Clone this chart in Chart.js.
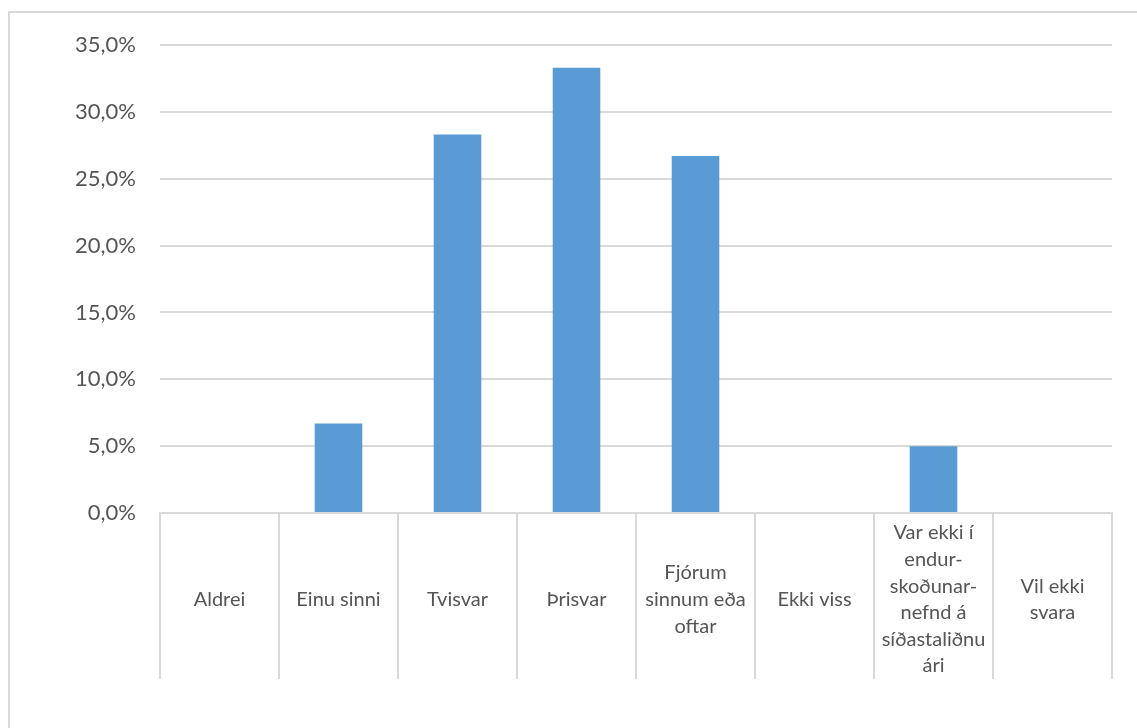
<!DOCTYPE html>
<html>
<head>
<meta charset="utf-8">
<script src="https://cdn.jsdelivr.net/npm/chart.js@4/dist/chart.umd.min.js"></script>
<style>
  html, body { margin: 0; padding: 0; background: #fff; overflow: hidden; }
  #wrap { position: relative; width: 1137px; height: 728px; }
  #frame {
    position: absolute; left: 8px; top: 11px; width: 1200px; height: 800px;
    border: 2px solid #d9d9d9; box-sizing: border-box;
  }
  canvas { position: absolute; left: 0; top: 0; }
</style>
</head>
<body>
<div id="wrap">
  <div id="frame"></div>
  <canvas id="chart" width="1137" height="728"></canvas>
</div>
<script>
// answers (category labels, multi-line as shown under the axis)
const categories = [
    'Aldrei',
    'Einu sinni',
    'Tvisvar',
    'Þrisvar',
    ['Fjórum', 'sinnum eða', 'oftar'],
    'Ekki viss',
    ['Var ekki í', 'endur-', 'skoðunar-', 'nefnd á', 'síðastaliðnu', 'ári'],
    ['Vil ekki', 'svara']
];
// share of answers, %
const shares = [0, 6.7, 28.3, 33.3, 26.7, 0, 5.0, 0];
// y axis range
const yMin = 0;
const yMax = 35;
const yStep = 5;

const textColor = '#555555';
const lineColor = '#d9d9d9';
const fontFamily = 'Lato, "Open Sans", sans-serif';

new Chart(document.getElementById('chart'), {
    type: 'bar',
    data: {
        labels: categories,
        datasets: [{
            data: shares,
            backgroundColor: '#5b9bd5',
            barPercentage: 0.4,
            categoryPercentage: 1
        }]
    },
    options: {
        responsive: false,
        animation: false,
        layout: { padding: { left: 0, right: 25, top: 45, bottom: 0 } },
        plugins: {
            legend: { display: false },
            tooltip: { enabled: false }
        },
        scales: {
            x: {
                offset: true,
                grid: {
                    offset: true,
                    drawOnChartArea: false,
                    drawTicks: true,
                    tickLength: 166,
                    color: lineColor,
                    lineWidth: 2
                },
                border: { display: true, color: lineColor, width: 2 },
                ticks: {
                    color: textColor,
                    font: { family: fontFamily, size: 20, lineHeight: 1.33 },
                    padding: -146,
                    crossAlign: 'center',
                    maxRotation: 0,
                    autoSkip: false
                },
                afterFit: s => { s.height = 215; }
            },
            y: {
                min: yMin,
                max: yMax,
                grid: { drawTicks: false, color: lineColor, lineWidth: 2 },
                border: { display: false },
                ticks: {
                    stepSize: yStep,
                    color: textColor,
                    font: { family: fontFamily, size: 22 },
                    padding: 24,
                    callback: v => v.toFixed(1).replace('.', ',') + '%'
                },
                afterFit: s => { s.width = 160; }
            }
        }
    }
});
</script>
</body>
</html>
